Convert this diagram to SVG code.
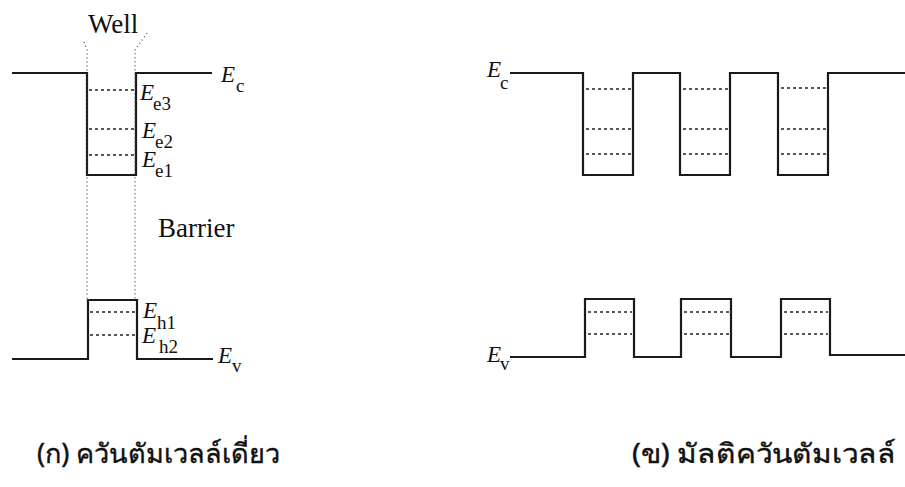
<svg xmlns="http://www.w3.org/2000/svg" width="905" height="487" viewBox="0 0 905 487">
<style>
.band{fill:none;stroke:#1a1a1a;stroke-width:2.2;stroke-linejoin:miter}
.lvl{stroke:#222;stroke-width:1.3;stroke-dasharray:3,3;fill:none}
.dot{stroke:#444;stroke-width:1.2;stroke-dasharray:1,3;fill:none}
.E{font-family:"Liberation Serif",serif;font-style:italic;font-size:23px;fill:#111}
.s{font-family:"Liberation Serif",serif;font-size:19px;fill:#111}
.lab{font-family:"Liberation Serif",serif;font-size:27px;fill:#111}
.cap{font-family:"Noto Sans","DejaVu Sans",sans-serif;font-size:27px;fill:#111;stroke:#111;stroke-width:0.4}
</style>
<rect width="905" height="487" fill="#fff"/>
<g id="connectors">
  <path class="band" d="M12,73 H87 V175 H136 V73 H212"/>
  <path class="lvl" d="M89,90 H134 M89,129 H134 M89,155 H134"/>
  <path class="band" d="M12,359 H88 V300 H137 V359 H213"/>
  <path class="lvl" d="M90,312 H135 M90,335 H135"/>
  <path class="dot" d="M84,42 L87,50 V300"/>
  <path class="dot" d="M147,33 L135,50 V300"/>
  <path class="band" d="M510,73 H583 V175 H633 V73 H680 V175 H730 V73 H778 V175 H828 V73 H905"/>
  <path class="lvl" d="M586,89 H631 M683,89 H728 M781,88 H826 M586,129 H631 M683,129 H728 M781,129 H826 M586,154 H631 M683,154 H728 M781,154 H826"/>
  <path class="band" d="M510,357 H585 V299 H634 V357 H681 V299 H731 V357 H781 V299 H830 V355 H905"/>
  <path class="lvl" d="M588,312 H632 M684,312 H729 M784,312 H828 M588,334 H632 M684,334 H729 M784,334 H828"/>
</g>
<g id="single-well-labels">
  <text class="lab" x="88" y="33">Well</text>
  <text class="lab" x="158" y="237">Barrier</text>
  <text x="221" y="82"><tspan class="E">E</tspan><tspan class="s" dy="10" dx="1">c</tspan></text>
  <text x="140" y="100"><tspan class="E">E</tspan><tspan class="s" dy="10" dx="-1">e3</tspan></text>
  <text x="142" y="138"><tspan class="E">E</tspan><tspan class="s" dy="10" dx="-1">e2</tspan></text>
  <text x="142" y="167"><tspan class="E">E</tspan><tspan class="s" dy="10" dx="-1">e1</tspan></text>
  <text x="143" y="318"><tspan class="E">E</tspan><tspan class="s" dy="11" dx="0">h1</tspan></text>
  <text x="142" y="343"><tspan class="E">E</tspan><tspan class="s" dy="10" dx="3">h2</tspan></text>
  <text x="218" y="363"><tspan class="E">E</tspan><tspan class="s" dy="9" dx="0">v</tspan></text>
</g>
<g id="mqw-labels">
  <text x="487" y="77"><tspan class="E">E</tspan><tspan class="s" dy="12" dx="-1">c</tspan></text>
  <text x="487" y="362"><tspan class="E">E</tspan><tspan class="s" dy="8" dx="-1">v</tspan></text>
</g>
<g id="captions">
  <text class="cap" x="37" y="463" textLength="243" lengthAdjust="spacingAndGlyphs">(ก) ควันตัมเวลล์เดี่ยว</text>
  <text class="cap" x="632" y="463" textLength="264" lengthAdjust="spacingAndGlyphs">(ข) มัลติควันตัมเวลล์</text>
</g>
</svg>
